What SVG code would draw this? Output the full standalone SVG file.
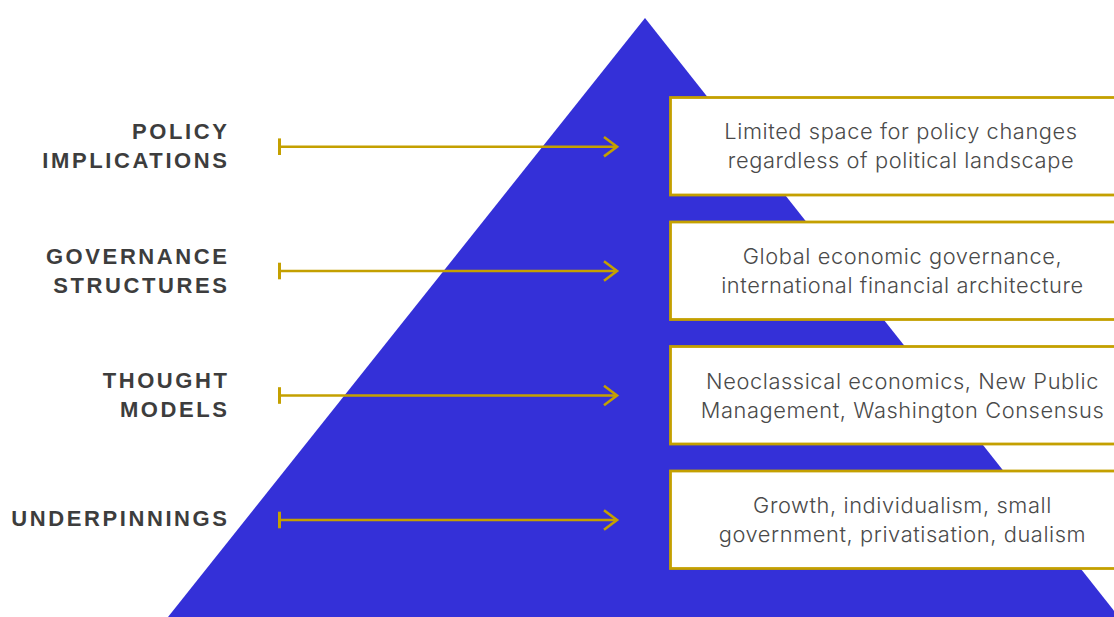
<svg xmlns="http://www.w3.org/2000/svg" width="1114" height="617" viewBox="0 0 1114 617">
<defs>
<style>
.lbl{font-family:"Liberation Sans",Arial,sans-serif;font-weight:bold;font-size:22px;letter-spacing:2.6px;fill:#3d3d3d;text-anchor:end}
.box{fill:#ffffff;stroke:#c4a000;stroke-width:2.8}
.txt{font-family:Inter,"Liberation Sans",sans-serif;font-weight:300;font-size:21.8px;letter-spacing:0.6px;fill:#4a4a4a;text-anchor:middle}
.conn{stroke:#c4a000;stroke-width:2.6;fill:none}
</style>
<marker id="tick" markerUnits="userSpaceOnUse" markerWidth="6" markerHeight="20" refX="3" refY="10" orient="auto">
<line x1="3" y1="1.7" x2="3" y2="18.3" stroke="#c4a000" stroke-width="3"/>
</marker>
<marker id="head" markerUnits="userSpaceOnUse" markerWidth="20" markerHeight="24" refX="16" refY="12" orient="auto">
<polyline points="3,2.3 16,12 3,21.7" fill="none" stroke="#c4a000" stroke-width="2.6"/>
</marker>
</defs>
<rect width="1114" height="617" fill="#ffffff"/>
<polygon id="pyramid" points="645,18 1119,617 168,617" fill="#3430d8"/>
<g id="connectors">
<line class="conn" x1="279.5" y1="146.7" x2="617" y2="146.7" marker-start="url(#tick)" marker-end="url(#head)"/>
<line class="conn" x1="279.5" y1="271" x2="617" y2="271" marker-start="url(#tick)" marker-end="url(#head)"/>
<line class="conn" x1="279.5" y1="395.5" x2="617" y2="395.5" marker-start="url(#tick)" marker-end="url(#head)"/>
<line class="conn" x1="279.5" y1="520" x2="617" y2="520" marker-start="url(#tick)" marker-end="url(#head)"/>
</g>
<g id="label-policy">
<text class="lbl" x="229.6" y="139">POLICY</text>
<text class="lbl" x="229.6" y="168">IMPLICATIONS</text>
</g>
<g id="label-governance">
<text class="lbl" x="229.6" y="263.5">GOVERNANCE</text>
<text class="lbl" x="229.6" y="292.5">STRUCTURES</text>
</g>
<g id="label-thought">
<text class="lbl" x="229.6" y="388">THOUGHT</text>
<text class="lbl" x="229.6" y="417">MODELS</text>
</g>
<g id="label-underpinnings">
<text class="lbl" x="229.6" y="526">UNDERPINNINGS</text>
</g>
<g id="box-policy">
<rect class="box" x="670.5" y="97.5" width="470" height="97.5"/>
<text class="txt" x="901" y="139.3">Limited space for policy changes</text>
<text class="txt" x="901" y="168">regardless of political landscape</text>
</g>
<g id="box-governance">
<rect class="box" x="670.5" y="222" width="470" height="97.5"/>
<text class="txt" x="902.5" y="264.3">Global economic governance,</text>
<text class="txt" x="902.5" y="293">international financial architecture</text>
</g>
<g id="box-thought">
<rect class="box" x="670.5" y="346.5" width="470" height="97.5"/>
<text class="txt" x="902.5" y="388.5">Neoclassical economics, New Public</text>
<text class="txt" x="902.5" y="417.5">Management, Washington Consensus</text>
</g>
<g id="box-underpinnings">
<rect class="box" x="670.5" y="471" width="470" height="97.5"/>
<text class="txt" x="902.5" y="512.8">Growth, individualism, small</text>
<text class="txt" x="902.5" y="541.7">government, privatisation, dualism</text>
</g>
</svg>
